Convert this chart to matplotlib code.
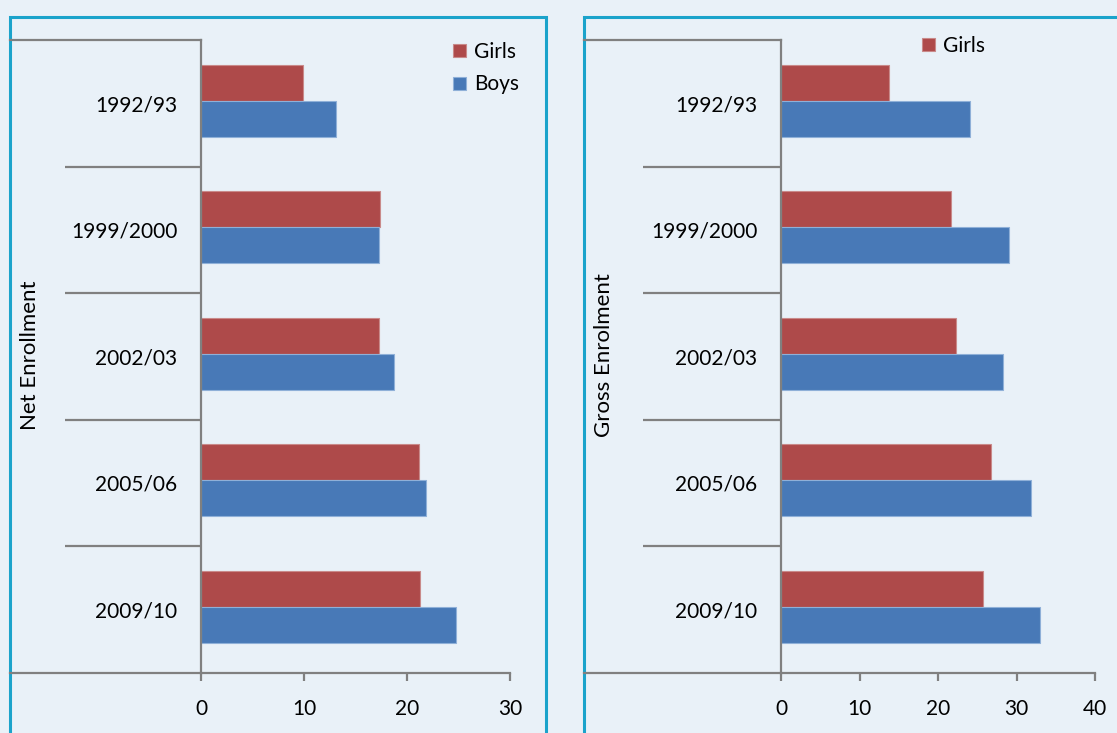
import numpy as np
import matplotlib
matplotlib.use("Agg")
import matplotlib.pyplot as plt
from matplotlib.patches import Rectangle
from matplotlib.lines import Line2D

# values
years = ["1992/93", "1999/2000", "2002/03", "2005/06", "2009/10"]
net_girls = [9.9, 17.4, 17.3, 21.2, 21.3]
net_boys = [13.1, 17.3, 18.7, 21.8, 24.8]
gross_girls = [13.8, 21.7, 22.3, 26.8, 25.7]
gross_boys = [24.1, 29.1, 28.3, 31.9, 33.0]

BG = "#E9F1F8"
BORDER = "#1BA3CB"
GRID = "#808080"
RED = "#AE4A4A"
BLUE = "#4879B7"
FONT = "Lato"
FS = 15

W, H = 1117, 733
plt.rcParams["font.family"] = [FONT, "DejaVu Sans"]

fig = plt.figure(figsize=(W / 100, H / 100), dpi=100, facecolor=BG)


def fx(px):
    return px / W


def fy(py):
    return 1 - py / H


def panel(x0, x1, x_zero, x_end, xmax, ylabel, girls, boys, label_x, legend_xy, show_boys):
    # panel frame (bottom edge falls below the image)
    fig.patches.append(Rectangle((fx(x0), fy(H + 20)), fx(x1 - x0), fy(17) - fy(H + 20),
                                 transform=fig.transFigure, fill=False,
                                 edgecolor=BORDER, lw=2.2, zorder=0))
    top, bottom = 40, 672.5
    ax = fig.add_axes([fx(x_zero), fy(bottom), fx(x_end - x_zero), fy(top) - fy(bottom)])
    ax.set_facecolor("none")

    pos = np.arange(len(years)) - 0.02
    h = 0.285
    bg = ax.barh(pos - h / 2, girls, height=h, color=RED, edgecolor="#C98A8A", lw=0.8, label="Girls")
    bb = ax.barh(pos + h / 2, boys, height=h, color=BLUE, edgecolor="#8FB0D8", lw=0.8, label="Boys")

    ax.set_xlim(0, xmax)
    ax.set_ylim(len(years) - 0.5, -0.5)
    ax.set_xticks(np.arange(0, xmax + 1, 10))
    ax.tick_params(axis="x", length=6, width=1.6, color=GRID, labelsize=FS, pad=13)

    ax.set_yticks(np.arange(len(years)), years)
    ax.set_yticks(np.arange(0.5, len(years) - 1, 1), minor=True)
    ax.tick_params(axis="y", which="major", length=0, labelsize=FS, pad=17)
    sep_len = (x_zero - label_x) * 72 / 100
    ax.tick_params(axis="y", which="minor", length=sep_len, width=1.6, color=GRID)

    for s in ["top", "right"]:
        ax.spines[s].set_visible(False)
    for s in ["left", "bottom"]:
        ax.spines[s].set_color(GRID)
        ax.spines[s].set_linewidth(1.6)

    # long lines at top and bottom of the category axis
    fig.lines.append(Line2D([fx(x0), fx(x_zero)], [fy(top), fy(top)], transform=fig.transFigure,
                            color=GRID, lw=1.6))
    fig.lines.append(Line2D([fx(x0), fx(x_zero)], [fy(bottom), fy(bottom)], transform=fig.transFigure,
                            color=GRID, lw=1.6))

    fig.text(fx(x0 + 20), fy(355), ylabel, rotation=90, ha="center", va="center", fontsize=16)

    handles = [bg, bb] if show_boys else [bg]
    fig.legend(handles=handles, loc="upper left", bbox_to_anchor=(fx(legend_xy[0]), fy(legend_xy[1])),
               bbox_transform=fig.transFigure, frameon=False, fontsize=FS, borderpad=0,
               borderaxespad=0, handlelength=0.6, handleheight=0.6, handletextpad=0.4,
               labelspacing=0.6)
    return ax


panel(10, 546, 201, 510, 30, "Net Enrollment", net_girls, net_boys, 65, (453, 42), True)
panel(584, W + 40, 781, 1095, 40, "Gross Enrolment", gross_girls, gross_boys, 643, (922, 36), False)

fig.savefig("out.png", dpi=100, facecolor=BG)
